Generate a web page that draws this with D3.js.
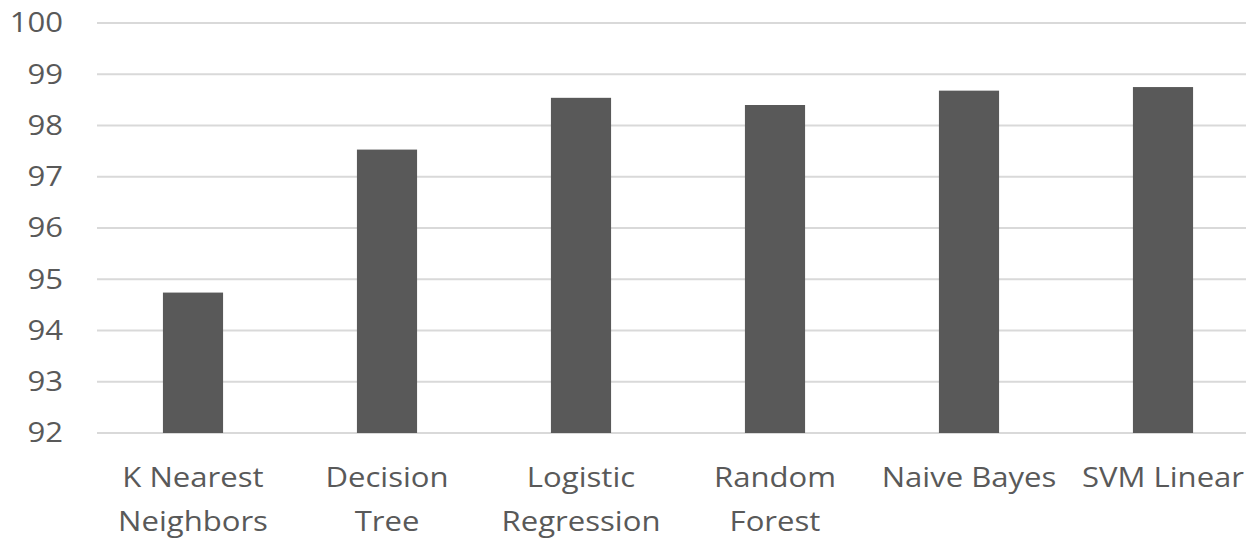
<!DOCTYPE html>
<html>
<head>
<meta charset="utf-8">
<script src="https://cdn.jsdelivr.net/npm/d3@7"></script>
<style>
  html, body { margin: 0; padding: 0; background: #ffffff; }
  svg { display: block; }
  text { font-family: "Open Sans", Lato, sans-serif; fill: #595959; }
</style>
</head>
<body>
<svg id="chart" width="1258" height="539"></svg>
<script>
// Model accuracy (%)
const models = ["K Nearest Neighbors", "Decision Tree", "Logistic Regression", "Random Forest", "Naive Bayes", "SVM Linear"];
const modelLines = [["K Nearest", "Neighbors"], ["Decision", "Tree"], ["Logistic", "Regression"], ["Random", "Forest"], ["Naive Bayes"], ["SVM Linear"]];
const accuracy = [94.74, 97.53, 98.54, 98.40, 98.68, 98.75];
const yTicks = [92, 93, 94, 95, 96, 97, 98, 99, 100];

const svg = d3.select("#chart");
const margin = { top: 23, left: 97 };
const gridWidth = 1149;
const height = 410;
const step = 194;
const fontSize = 28;
const stretch = 1.11; // slightly wide lettering

const g = svg.append("g").attr("transform", `translate(${margin.left},${margin.top})`);

const x = d3.scaleBand().domain(models).range([-1, -1 + step * models.length]).paddingInner(0.69).paddingOuter(0.345);
const y = d3.scaleLinear().domain([92, 100]).range([height, 0]);

// Horizontal gridlines
g.append("g")
  .selectAll("line")
  .data(yTicks)
  .join("line")
  .attr("x1", 0)
  .attr("x2", gridWidth)
  .attr("y1", d => y(d))
  .attr("y2", d => y(d))
  .attr("stroke", "#d9d9d9")
  .attr("stroke-width", 2);

// Y axis labels
const yAxis = g.append("g")
  .attr("transform", "translate(-34,0)")
  .call(d3.axisLeft(y).tickValues(yTicks).tickSize(0).tickPadding(0));
yAxis.select(".domain").remove();
yAxis.selectAll("text")
  .attr("x", 0)
  .attr("font-size", fontSize)
  .attr("transform", `scale(${stretch},1)`)
  .style("font-family", "'Open Sans', Lato, sans-serif")
  .attr("fill", "#595959");

// Bars
g.append("g")
  .selectAll("rect")
  .data(accuracy)
  .join("rect")
  .attr("x", (d, i) => x(models[i]))
  .attr("y", d => y(d))
  .attr("width", x.bandwidth())
  .attr("height", d => height - y(d))
  .attr("fill", "#595959");

// Category labels
const labels = g.append("g")
  .selectAll("g")
  .data(models)
  .join("g")
  .attr("transform", d => `translate(${x(d) + x.bandwidth() / 2},${height + 54})`)
  .append("text")
  .attr("x", 0)
  .attr("y", 0)
  .attr("transform", `scale(${stretch},1)`)
  .attr("text-anchor", "middle")
  .attr("font-size", fontSize);
labels.selectAll("tspan")
  .data((d, i) => modelLines[i])
  .join("tspan")
  .attr("x", 0)
  .attr("dy", (d, i) => i === 0 ? 0 : 44)
  .text(d => d);
</script>
</body>
</html>
